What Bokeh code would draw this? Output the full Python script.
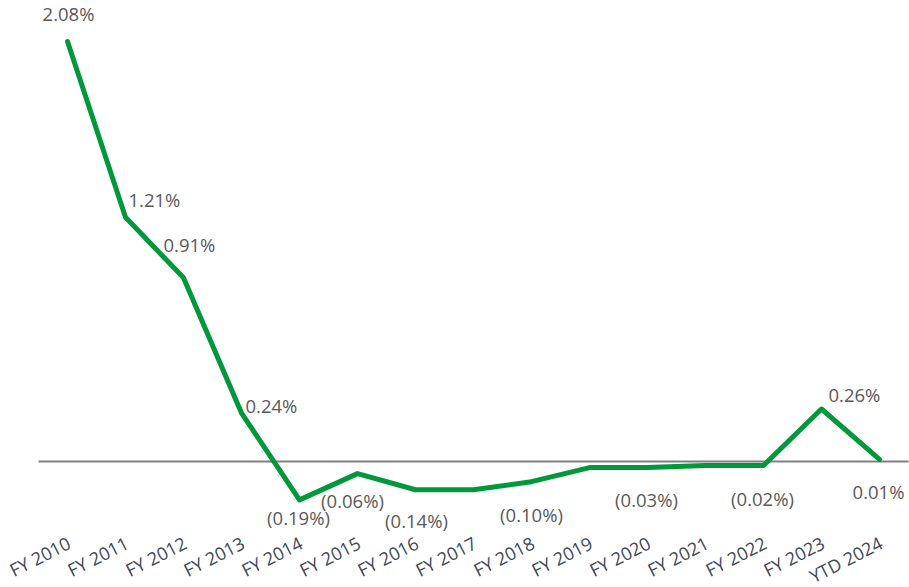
import math
from bokeh.plotting import figure
from bokeh.models import Range1d, ColumnDataSource
from bokeh.core.properties import value
from bokeh.embed import file_html
from bokeh.resources import INLINE

# ---- data ----
categories = ["FY 2010", "FY 2011", "FY 2012", "FY 2013", "FY 2014", "FY 2015",
              "FY 2016", "FY 2017", "FY 2018", "FY 2019", "FY 2020", "FY 2021",
              "FY 2022", "FY 2023", "YTD 2024"]
rate_pct = [2.08, 1.21, 0.91, 0.24, -0.19, -0.06, -0.14, -0.14, -0.10, -0.03,
            -0.03, -0.02, -0.02, 0.26, 0.01]
labelled = [True, True, True, True, True, True, True, False, True, False,
            True, False, True, True, True]


def fmt(v):
    return f"({abs(v):.2f}%)" if v < 0 else f"{v:.2f}%"


labels = [fmt(v) if show else "" for v, show in zip(rate_pct, labelled)]

# ---- label placement (pixel offsets, style only) ----
base_shift = -7
label_dx = [1, 3, -20, 4, -1, -5, 1, 0, 0, 0, -1, 0, -1, 7, -1]
label_dy = [d + base_shift for d in
            [-21, -11, -26, -1, 25, 34, 38, 0, 40, 0, 39, 0, 40, -8, 39]]
label_align = ["center", "left", "left", "left", "center", "center", "center",
               "center", "center", "center", "center", "center", "center",
               "left", "center"]

xs = list(range(len(categories)))

W, H = 909, 587
px_per_unit = 201.9   # px per 1 %
zero_px = 461         # zero line position in canvas coords
first_px, step_px = 67, 58

y_top = zero_px / px_per_unit
y_bot = -(H - zero_px) / px_per_unit
x_lo = -first_px / step_px
x_hi = (W - first_px) / step_px

p = figure(width=W, height=H, output_backend="svg", toolbar_location=None,
           x_range=Range1d(x_lo, x_hi), y_range=Range1d(y_bot, y_top),
           x_axis_location=None, y_axis_location=None,
           min_border_left=0, min_border_right=0,
           min_border_top=0, min_border_bottom=0)
p.outline_line_color = None
p.grid.visible = False
p.background_fill_color = "white"
p.border_fill_color = "white"

# category axis line (zero) across the category band
p.segment(x0=[-0.5], x1=[len(categories) - 0.5], y0=[0], y1=[0],
          line_color="#808080", line_width=2)

src = ColumnDataSource(dict(x=xs, y=rate_pct, lab=labels, dx=label_dx,
                            dy=label_dy, al=label_align))
p.line("x", "y", source=src, line_color="#00983A", line_width=5,
       line_join="round", line_cap="round")

# data labels
p.text("x", "y", text="lab", source=src, x_offset="dx", y_offset="dy",
       text_align="al", text_baseline="alphabetic",
       text_font=value("Open Sans"), text_font_size="18.5px",
       text_color="#595959")

# category tick labels, hanging below the category axis line
tick_src = ColumnDataSource(dict(x=xs, y=[0] * len(xs), name=categories))
p.text("x", "y", text="name", source=tick_src, x_offset=1.5, y_offset=80,
       angle=math.radians(27), text_align="right", text_baseline="alphabetic",
       text_font=value("Open Sans"), text_font_size="18px",
       text_color="#3E4858")

open("out.html", "w").write(file_html(p, INLINE))
